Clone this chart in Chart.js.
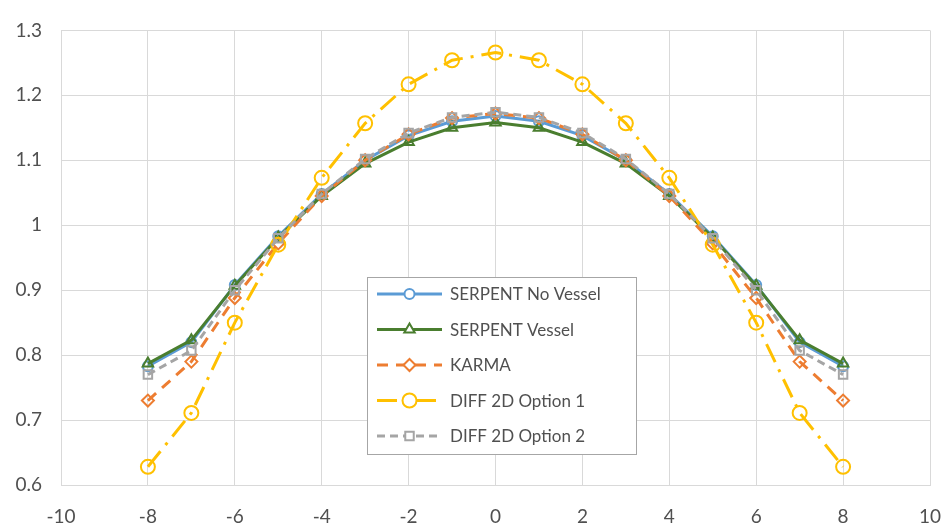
<!DOCTYPE html>
<html>
<head>
<meta charset="utf-8">
<script src="https://cdn.jsdelivr.net/npm/chart.js@4/dist/chart.umd.min.js"></script>
<style>
  html, body { margin: 0; padding: 0; background: #fff; }
  #wrap { width: 943px; height: 525px; position: relative; }
</style>
</head>
<body>
<div id="wrap"><canvas id="profileChart"></canvas></div>
<script>
/* Radial power profile - five calculation methods */

const positions = [-8, -7, -6, -5, -4, -3, -2, -1, 0, 1, 2, 3, 4, 5, 6, 7, 8];

const serpentNoVessel = [0.783, 0.820, 0.908, 0.983, 1.048, 1.100, 1.138, 1.160, 1.168, 1.160, 1.138, 1.100, 1.048, 0.983, 0.908, 0.820, 0.783];
const serpentVessel   = [0.787, 0.823, 0.907, 0.981, 1.045, 1.095, 1.128, 1.150, 1.158, 1.150, 1.128, 1.095, 1.045, 0.981, 0.907, 0.823, 0.787];
const karma           = [0.730, 0.790, 0.888, 0.972, 1.045, 1.100, 1.140, 1.165, 1.172, 1.165, 1.140, 1.100, 1.045, 0.972, 0.888, 0.790, 0.730];
const diffOption1     = [0.628, 0.711, 0.850, 0.970, 1.073, 1.157, 1.217, 1.254, 1.266, 1.254, 1.217, 1.157, 1.073, 0.970, 0.850, 0.711, 0.628];
const diffOption2     = [0.770, 0.807, 0.900, 0.980, 1.048, 1.102, 1.142, 1.166, 1.174, 1.166, 1.142, 1.102, 1.048, 0.980, 0.900, 0.807, 0.770];

const xTicks = [-10, -8, -6, -4, -2, 0, 2, 4, 6, 8, 10];
const yTicks = [0.6, 0.7, 0.8, 0.9, 1.0, 1.1, 1.2, 1.3];

const FONT = 'Lato, "Open Sans", sans-serif';
const TEXT_COLOR = '#505050';
const GRID_COLOR = '#d9d9d9';

function series(label, values, color, opts) {
    return Object.assign({
        label,
        data: values.map((v, i) => ({ x: positions[i], y: v })),
        borderColor: color,
        pointBorderColor: color,
        backgroundColor: 'rgba(0,0,0,0)',
        pointBackgroundColor: 'rgba(0,0,0,0)',
        borderWidth: 3,
        pointBorderWidth: 2,
        pointRadius: 5,
        tension: 0,
        fill: false,
    }, opts);
}

const datasets = [
    series('SERPENT No Vessel', serpentNoVessel, '#5b9bd5', { pointStyle: 'circle', order: 5 }),
    series('SERPENT Vessel', serpentVessel, '#4a7e2f', { pointStyle: 'triangle', pointRadius: 6, order: 4 }),
    series('KARMA', karma, '#ed7d31', { pointStyle: 'rectRot', pointRadius: 6, borderDash: [11, 8], order: 3 }),
    series('DIFF 2D Option 1', diffOption1, '#ffc000', { pointStyle: 'circle', pointRadius: 7, borderDash: [20, 8, 3, 8], order: 2 }),
    series('DIFF 2D Option 2', diffOption2, '#a5a5a5', { pointStyle: 'rect', pointRadius: 6, borderDash: [8, 5], order: 1 }),
];

// legend drawn as a floating box inside the plot area
const boxLegend = {
    id: 'boxLegend',
    afterDraw(chart, args, opts) {
        const ctx = chart.ctx;
        const { left, top, width, height, rowHeight } = opts;
        ctx.save();
        ctx.fillStyle = '#fff';
        ctx.fillRect(left, top, width, height);
        ctx.strokeStyle = '#a6a6a6';
        ctx.lineWidth = 1;
        ctx.strokeRect(left + 0.5, top + 0.5, width, height);

        chart.data.datasets.forEach((ds, i) => {
            const y = top + 17 + i * rowHeight;
            const x0 = left + 10, x1 = left + 75;
            ctx.strokeStyle = ds.borderColor;
            ctx.lineWidth = ds.borderWidth;
            ctx.setLineDash(ds.borderDash || []);
            ctx.beginPath();
            ctx.moveTo(x0, y);
            ctx.lineTo(x1, y);
            ctx.stroke();
            ctx.setLineDash([]);
            // clear behind the marker like the plotted points
            ctx.fillStyle = '#fff';
            ctx.strokeStyle = ds.pointBorderColor;
            ctx.lineWidth = ds.pointBorderWidth;
            Chart.helpers.drawPoint(ctx, {
                pointStyle: ds.pointStyle,
                radius: ds.pointRadius,
                rotation: 0,
                borderWidth: ds.pointBorderWidth,
            }, (x0 + x1) / 2, y);
            ctx.fillStyle = TEXT_COLOR;
            ctx.font = '17px ' + FONT;
            ctx.textBaseline = 'middle';
            ctx.textAlign = 'left';
            ctx.fillText(ds.label, x1 + 8, y + 1);
        });
        ctx.restore();
    },
};

new Chart(document.getElementById('profileChart'), {
    type: 'line',
    data: { datasets },
    plugins: [boxLegend],
    options: {
        responsive: true,
        maintainAspectRatio: false,
        animation: false,
        layout: { padding: { top: 21, right: 0, left: 0, bottom: 0 } },
        scales: {
            x: {
                type: 'linear',
                min: -10,
                max: 10,
                afterBuildTicks: s => { s.ticks = xTicks.map(v => ({ value: v })); },
                afterFit: s => { s.height = 40; s.paddingLeft = 0; s.paddingRight = 13; },
                grid: { color: GRID_COLOR, drawTicks: false },
                border: { color: GRID_COLOR },
                ticks: { padding: 20, color: TEXT_COLOR, font: { family: FONT, size: 19 } },
            },
            y: {
                min: 0.6,
                max: 1.3,
                afterBuildTicks: s => { s.ticks = yTicks.map(v => ({ value: v })); },
                afterFit: s => { s.width = 61; },
                grid: { color: GRID_COLOR, drawTicks: false },
                border: { color: GRID_COLOR },
                ticks: {
                    padding: 19,
                    color: TEXT_COLOR,
                    font: { family: FONT, size: 19 },
                    callback: v => String(Math.round(v * 10) / 10),
                },
            },
        },
        plugins: {
            legend: { display: false },
            tooltip: { enabled: false },
            boxLegend: { left: 367, top: 277, width: 269, height: 177, rowHeight: 35.5 },
        },
    },
});
</script>
</body>
</html>
